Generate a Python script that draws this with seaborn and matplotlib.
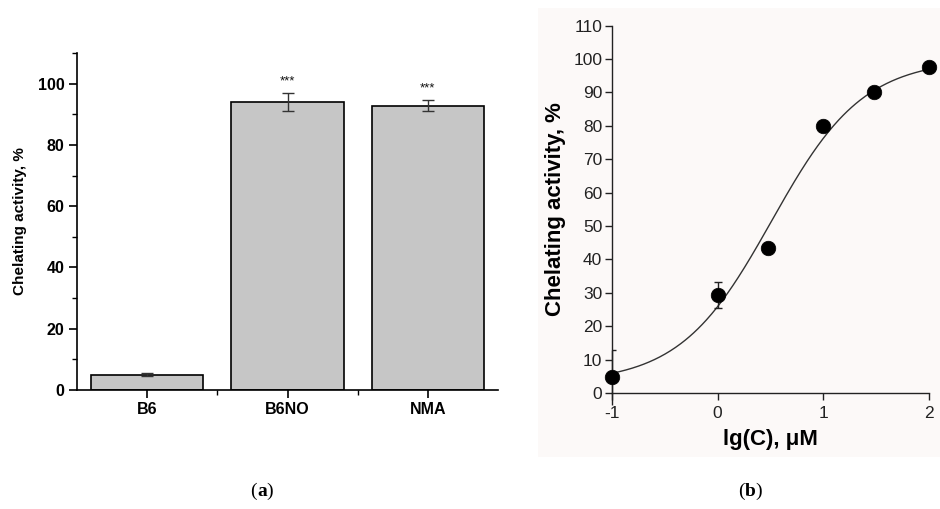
import numpy as np
import pandas as pd
import matplotlib
matplotlib.use("Agg")
import matplotlib.pyplot as plt
import seaborn as sns
from matplotlib.patches import Rectangle

sns.set_theme(style="white")
plt.rcParams['font.family'] = ['Liberation Sans', 'DejaVu Sans']
plt.rcParams['text.color'] = 'black'
plt.rcParams['axes.labelcolor'] = 'black'
plt.rcParams['xtick.color'] = 'black'
plt.rcParams['ytick.color'] = 'black'

# ---- Panel (a) data ----
categories = ["B6", "B6NO", "NMA"]
bar_values = [5.0, 94.0, 92.8]
bar_errors = [0.5, 3.0, 1.8]
bar_marks = ["", "***", "***"]

# ---- Panel (b) data ----
log_conc = [-1.0, 0.0, 0.477, 1.0, 1.477, 2.0]
activity = [4.7, 29.3, 43.5, 80.0, 90.0, 97.5]
activity_err = [8.2, 3.8, 1.0, 0.6, 0.6, 0.6]
# fitted 4-parameter logistic curve parameters
fit_bottom = 3.0
fit_top = 100.0
fit_logec50 = 0.51
fit_hill = 1.0

fig = plt.figure(figsize=(9.4, 5.09), dpi=100)
fig.patch.set_facecolor("white")

# background box for panel (b)
bg = Rectangle((538/940, 1-457/509), (940-538)/940, (457-8)/509,
               transform=fig.transFigure, facecolor="#fcf9f8",
               edgecolor="none", zorder=-10)
fig.patches.append(bg)

# ---------------- Panel (a) ----------------
axA = fig.add_axes([77/940, 1-390/509, (498-77)/940, (390-53)/509])
axA.set_facecolor("white")
dfA = pd.DataFrame({"cat": categories, "val": bar_values})
sns.barplot(data=dfA, x="cat", y="val", ax=axA, color="#c6c6c6",
            edgecolor="black", linewidth=1.2, width=0.8, saturation=1,
            errorbar=None)
axA.errorbar(range(len(categories)), bar_values, yerr=bar_errors, fmt="none",
             ecolor="#333333", elinewidth=1.0, capsize=4, capthick=1.0)
for i, (v, e, m) in enumerate(zip(bar_values, bar_errors, bar_marks)):
    if m:
        axA.text(i, v + e + 1.8, m, ha="center", va="bottom",
                 fontsize=9.5, color="#111111")
axA.set_xlim(-0.5, 2.5)
axA.set_ylim(0, 110)
axA.set_yticks([0, 20, 40, 60, 80, 100])
axA.set_yticks([10, 30, 50, 70, 90, 110], minor=True)
axA.set_xticks([0.5, 1.5], minor=True)
for s in ["top", "right"]:
    axA.spines[s].set_visible(False)
for s in ["left", "bottom"]:
    axA.spines[s].set_color("black")
    axA.spines[s].set_linewidth(1.2)
axA.tick_params(axis="both", which="major", direction="out", length=6,
                width=1.2, color="black", labelsize=11.5, pad=3,
                left=True, bottom=True, labelcolor="black")
axA.tick_params(axis="both", which="minor", direction="out", length=3.5,
                width=1.0, color="black", left=True, bottom=True)
for lab in axA.get_xticklabels() + axA.get_yticklabels():
    lab.set_fontweight("bold")
axA.set_xlabel("")
axA.set_ylabel("Chelating activity, %", fontsize=11, fontweight="bold",
               labelpad=8)

# ---------------- Panel (b) ----------------
axB = fig.add_axes([612/940, 1-393/509, (929-612)/940, (393-25.7)/509])
axB.patch.set_alpha(0)
xs = np.linspace(-1, 2, 300)
ys = fit_bottom + (fit_top - fit_bottom) / (1 + 10 ** ((fit_logec50 - xs) * fit_hill))
sns.lineplot(x=xs, y=ys, ax=axB, color="#333333", linewidth=1.0)
axB.errorbar(log_conc, activity, yerr=activity_err, fmt="none",
             ecolor="#222222", elinewidth=1.0, capsize=3, capthick=1.0,
             zorder=3)
sns.scatterplot(x=log_conc, y=activity, ax=axB, color="black", s=110,
                edgecolor="black", linewidth=0.5, zorder=4)
axB.set_xlim(-1, 2)
axB.set_ylim(0, 110)
axB.set_xticks([-1, 0, 1, 2])
axB.set_xticklabels(["-1", "0", "1", "2"])
axB.set_yticks(list(range(0, 111, 10)))
for s in ["top", "right"]:
    axB.spines[s].set_visible(False)
for s in ["left", "bottom"]:
    axB.spines[s].set_color("#222222")
    axB.spines[s].set_linewidth(1.0)
axB.tick_params(axis="both", which="major", direction="out", length=5,
                width=1.0, color="#222222", labelsize=12.5, pad=2,
                left=True, bottom=True, labelcolor="#222222")
axB.tick_params(axis="x", pad=4)
for c in axB.collections:
    c.set_clip_on(False)
axB.set_xlabel("lg(C), μM", fontsize=16, fontweight="bold", labelpad=6)
axB.set_ylabel("Chelating activity, %", fontsize=16, fontweight="bold",
               labelpad=5)

# ---------------- Captions ----------------
fig.text(257/940, 1-491/509, "(", fontsize=14, family="Liberation Serif",
         ha="right", va="center")
fig.text(257/940, 1-491/509, "a", fontsize=14, family="Liberation Serif",
         fontweight="bold", ha="left", va="center")
fig.text(266/940, 1-491/509, ")", fontsize=14, family="Liberation Serif",
         ha="left", va="center")
fig.text(745/940, 1-491/509, "(", fontsize=14, family="Liberation Serif",
         ha="right", va="center")
fig.text(745/940, 1-491/509, "b", fontsize=14, family="Liberation Serif",
         fontweight="bold", ha="left", va="center")
fig.text(755/940, 1-491/509, ")", fontsize=14, family="Liberation Serif",
         ha="left", va="center")

fig.savefig("out.png", dpi=100)
